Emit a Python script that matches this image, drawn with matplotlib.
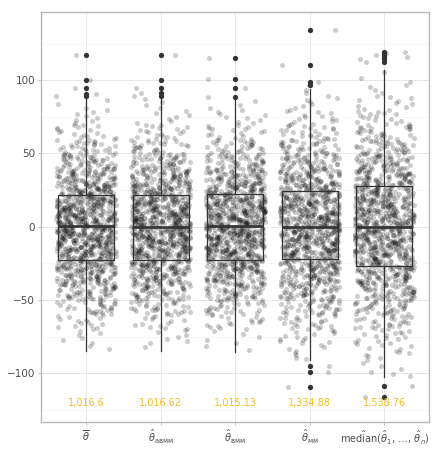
import numpy as np
import matplotlib
matplotlib.use("Agg")
import matplotlib.pyplot as plt
from matplotlib.ticker import FixedLocator

# categories and labels
labels = [r'$\overline{\theta}$',
          r'$\hat{\theta}_{\mathrm{aʙᴍᴍ}}$',
          r'$\hat{\theta}_{\mathrm{ʙᴍᴍ}}$',
          r'$\hat{\theta}_{\mathrm{ᴍᴍ}}$',
          r'$\hat{\mathrm{median}}(\hat{\theta}_1,\, \ldots,\, \hat{\theta}_n)$']

# variances printed under each box
variances = ["1,016.6", "1,016.62", "1,015.13", "1,334.88", "1,538.76"]

# box statistics
q1 = [-22.5, -23.0, -22.8, -22.2, -26.6]
med = [0.2, -0.3, 0.3, -0.2, -0.4]
q3 = [21.8, 21.5, 22.0, 24.6, 27.6]
whis_lo = [-84.6, -84.6, -85.8, -90.8, -102.6]
whis_hi = [88.0, 88.0, 86.7, 94.0, 107.0]
outliers = [
    [89.0, 90.6, 94.6, 100.0, 117.0],
    [89.0, 91.0, 94.6, 100.0, 117.0],
    [88.3, 94.6, 100.8, 115.0],
    [-109.7, -99.0, -95.0, 97.0, 98.5, 110.0, 134.0],
    [-116.0, -109.0, 112.5, 114.7, 115.9, 117.0, 118.2, 119.0],
]

# number of points per 10-unit band (estimated from the point density),
# from the lower whisker end up to the upper whisker end
counts = [
    [2, 6, 15, 29, 47, 69, 92, 111, 123, 123, 111, 92, 69, 47, 29, 16, 8, 3],
    [1, 7, 14, 30, 46, 70, 90, 113, 122, 125, 109, 93, 68, 48, 28, 17, 7, 4],
    [2, 5, 16, 28, 48, 68, 93, 110, 124, 122, 112, 91, 70, 46, 30, 15, 9, 3],
    [1, 7, 13, 22, 35, 51, 69, 86, 100, 108, 108, 100, 86, 69, 51, 35, 22, 13, 7, 2],
    [2, 5, 10, 16, 26, 38, 53, 68, 83, 94, 101, 101, 94, 83, 68, 53, 38, 26, 16, 10, 5, 2],
]


def jitter(k):
    # horizontal jitter offset in [-0.4, 0.4] (geom_jitter default width),
    # taken from an integer hash of the point index
    x = np.asarray(k, dtype=np.uint64) + np.uint64(0x9E3779B97F4A7C15)
    with np.errstate(over='ignore'):
        x = (x ^ (x >> np.uint64(30))) * np.uint64(0xBF58476D1CE4E5B9)
        x = (x ^ (x >> np.uint64(27))) * np.uint64(0x94D049BB133111EB)
        x = x ^ (x >> np.uint64(31))
    u = (x >> np.uint64(11)).astype(np.float64) / 2.0 ** 53
    return 0.8 * (u - 0.5)


fig = plt.figure(figsize=(4.41, 4.5), dpi=100)
ax = fig.add_axes([0.094, 0.063, 0.879, 0.911])

# jittered points
for g in range(5):
    c = counts[g]
    half = len(c) // 2
    edges = [whis_lo[g]] + list(range(-10 * (half - 1), 10 * half, 10)) + [whis_hi[g]]
    ys = []
    for b in range(len(c)):
        a, e = edges[b], edges[b + 1]
        for j in range(c[b]):
            ys.append(a + (e - a) * (j + 0.5) / c[b])
    ys += outliers[g]
    idx = np.arange(len(ys)) + 1000 * g
    xs = g + 1 + jitter(idx)
    ax.scatter(xs, ys, s=13, color='black', alpha=0.2, linewidths=0, zorder=2)

stats = []
for g in range(5):
    stats.append(dict(med=med[g], q1=q1[g], q3=q3[g], whislo=whis_lo[g],
                      whishi=whis_hi[g], fliers=outliers[g]))

line_c = '#333333'
ax.bxp(stats, positions=range(1, 6), widths=0.75, showcaps=False, patch_artist=False,
       boxprops=dict(color=line_c, lw=0.9),
       whiskerprops=dict(color=line_c, lw=0.9),
       medianprops=dict(color=line_c, lw=1.9),
       flierprops=dict(marker='o', markerfacecolor=line_c, markeredgecolor='none',
                       markersize=3.8),
       zorder=3)

for g in range(5):
    ax.text(g + 1, -120, variances[g], color='#F2C01E', fontsize=7,
            ha='center', va='center', zorder=4)

ax.set_xlim(0.4, 5.6)
ax.set_ylim(-133, 146.7)
ax.set_xticks(range(1, 6))
ax.set_xticklabels(labels, fontsize=7, color='#4D4D4D')
ax.yaxis.set_major_locator(FixedLocator([-100, -50, 0, 50, 100]))
ax.set_yticklabels(['\u2212100', '\u221250', '0', '50', '100'])
ax.yaxis.set_minor_locator(FixedLocator([-125, -75, -25, 25, 75, 125]))
ax.tick_params(axis='both', which='major', length=2.5, width=0.6, color='#B3B3B3',
               labelcolor='#4D4D4D', pad=2)
ax.tick_params(axis='y', which='major', labelsize=7.5)
ax.tick_params(axis='x', which='major', labelsize=7)
ax.tick_params(axis='y', which='minor', length=0)
ax.grid(True, which='major', color='#E3E3E3', lw=0.6, zorder=0)
ax.grid(True, which='minor', axis='y', color='#F1F1F1', lw=0.4, zorder=0)
ax.set_axisbelow(True)
for sp in ax.spines.values():
    sp.set_color('#B8B8B8')
    sp.set_linewidth(1.0)

fig.savefig('out.png', dpi=100)
